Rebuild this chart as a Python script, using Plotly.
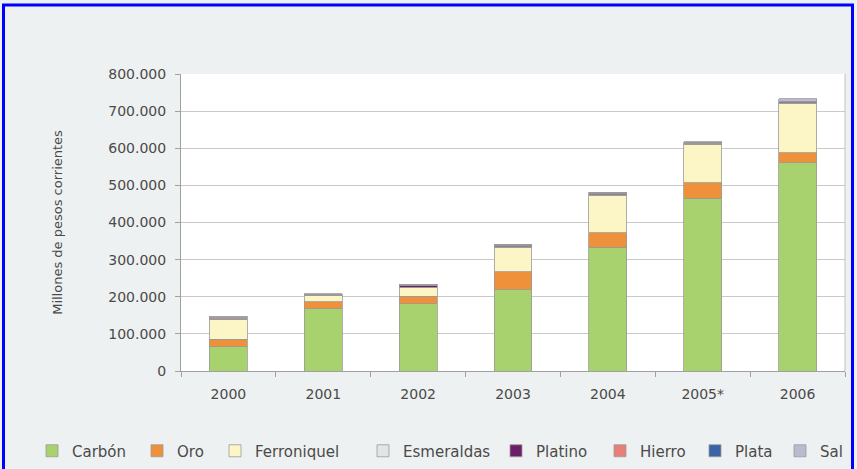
import plotly.graph_objects as go

years = ["2000", "2001", "2002", "2003", "2004", "2005*", "2006"]
carbon = [65000, 168000, 181000, 219000, 333000, 465000, 561000]
oro = [21000, 19000, 20000, 49000, 39000, 42000, 27000]
ferroniquel = [52000, 16000, 24000, 66000, 102000, 104000, 133000]
esmeraldas = [1000, 500, 1000, 1000, 1000, 1000, 1500]
platino = [1500, 1000, 4000, 3500, 4000, 2000, 2500]
hierro = [3000, 2000, 1500, 1500, 1000, 1500, 1500]
plata = [500, 300, 500, 500, 500, 500, 500]
sal = [3000, 1200, 2000, 1500, 1500, 2000, 6000]

series_names = ["Carbón", "Oro", "Ferroniquel", "Esmeraldas", "Platino", "Hierro", "Plata", "Sal"]
series_values = [carbon, oro, ferroniquel, esmeraldas, platino, hierro, plata, sal]
series_colors = ["#a8d26e", "#ef913a", "#fcf5c6", "#e2e5e5", "#6a1f68", "#e8807a", "#3b63a6", "#bbbbd0"]
legend_px = [52, 157, 235, 383, 516, 620, 715, 800]  # legend entry anchor in px

W, H = 857, 469
L, R, T, B = 181, 12, 74, 98
pw, ph = W - L - R, H - T - B
FONT = "DejaVu Sans"

fig = go.Figure()
legend_layouts = {}
for i, (name, vals, col) in enumerate(zip(series_names, series_values, series_colors)):
    lg = "legend" if i == 0 else f"legend{i+1}"
    fig.add_trace(go.Bar(
        x=years, y=vals, name=name, legend=lg, showlegend=True,
        marker=dict(color=col, line=dict(color="#9a9a9a", width=0.8)),
    ))
    legend_layouts[lg] = dict(
        x=(legend_px[i] - 20 - L) / pw, y=(T + ph - 451) / ph,
        xanchor="left", yanchor="middle", orientation="h",
        bgcolor="rgba(0,0,0,0)", font=dict(size=15, color="#4a4a4a", family=FONT),
    )

fig.update_layout(
    width=W, height=H,
    showlegend=True,
    margin=dict(l=L, r=R, t=T, b=B, autoexpand=False),
    barmode="stack", bargap=0.6,
    paper_bgcolor="#eef1f1", plot_bgcolor="#ffffff",
    separators=",.",
    font=dict(family=FONT, size=14, color="#4a4a4a"),
    xaxis=dict(
        type="category", showgrid=False, ticks="outside", tickson="boundaries",
        ticklen=5, tickcolor="#a0a0a0", showline=True, linecolor="#a0a0a0",
        mirror=False, ticklabelstandoff=10, tickfont=dict(size=14),
    ),
    yaxis=dict(
        range=[0, 800000], dtick=100000, tickformat=",d",
        showgrid=True, gridcolor="#c9c9c9", gridwidth=1,
        ticks="outside", ticklen=5, tickcolor="#a0a0a0",
        showline=True, linecolor="#a0a0a0", zeroline=False,
        ticklabelstandoff=6, tickfont=dict(size=14),
        title=dict(text="Millones de pesos corrientes", font=dict(size=13), standoff=42),
    ),
    **legend_layouts,
)

# right edge of plot area
fig.add_shape(type="line", xref="paper", yref="paper", x0=1, x1=1, y0=0, y1=1,
              line=dict(color="#c0c0c0", width=1))
# outer blue frame
fig.add_shape(type="rect", xref="paper", yref="paper",
              x0=(3.5 - L) / pw, x1=(852.5 - L) / pw,
              y0=(T + ph - 480) / ph, y1=(T + ph - 5) / ph,
              line=dict(color="#0000ff", width=3), fillcolor="rgba(0,0,0,0)")

fig.write_html("out.html", config={"displayModeBar": False},
               post_script="document.body.style.margin='0px';")
